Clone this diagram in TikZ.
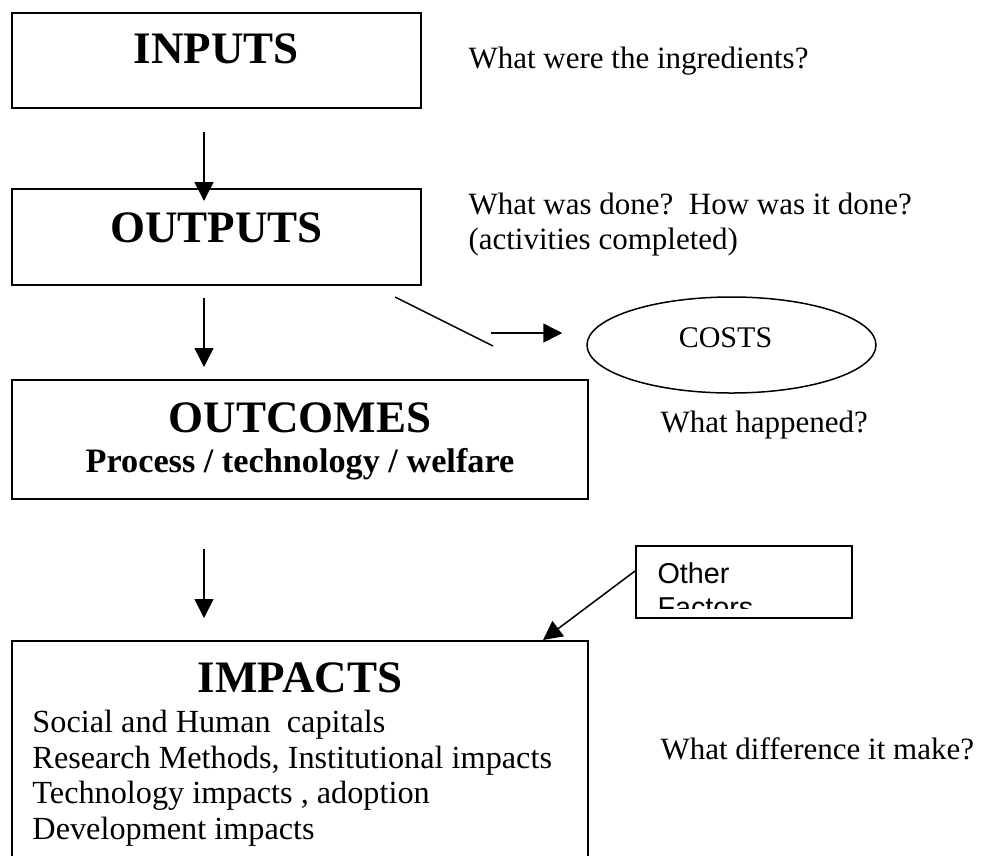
\documentclass[tikz,border=0pt]{standalone}
\usepackage{fontspec}
\setmainfont{Liberation Serif}
\setsansfont{Liberation Sans}
\usetikzlibrary{arrows.meta,positioning,shapes.geometric}

\tikzset{
  box/.style={draw,line width=0.8pt,inner sep=0pt},
  flow/.style={-{Triangle[length=7.6pt,width=7.6pt]},line width=0.6pt},
  head/.style={font=\fontsize{18}{22}\selectfont\bfseries,anchor=base,inner sep=0pt},
  subhead/.style={font=\fontsize{13.7}{16}\selectfont\bfseries,anchor=base,inner sep=0pt},
  note/.style={font=\fontsize{12.4}{14.2}\selectfont,anchor=base west,inner sep=0pt},
}

\begin{document}
\begin{tikzpicture}[x=0.4pt,y=-0.4pt]
    \useasboundingbox (0,0) rectangle (987,855);

    % the chain of boxes
    \node[box,minimum width=163.6pt,minimum height=38pt] (inputs) at (216.5,60.5) {};
    \node[box,minimum width=163.6pt,minimum height=38.4pt] (outputs) at (216.5,237) {};
    \node[box,minimum width=230.4pt,minimum height=47.6pt] (outcomes) at (300,439.5) {};
    \node[box,minimum width=230.4pt,minimum height=95.6pt] (impacts) at (300,760.5) {};

    \node[head] (inputsttl) at (216.5,63) {INPUTS};
    \node[head] (outputsttl) at (216.5,242) {OUTPUTS};
    \node[head] (outcomesttl) at (300,432) {OUTCOMES};
    \node[subhead] (outcomessub) at (300,472) {Process / technology / welfare};
    \node[head] (impactsttl) at (300,692) {IMPACTS};
    \node[note,anchor=north west,align=left,font=\fontsize{12.9}{14.2}\selectfont] (impactslist) at (32,710)
        {Social and Human\ \ capitals\\
         Research Methods, Institutional impacts\\
         Technology impacts , adoption\\
         Development impacts};

    % questions on the right
    \node[note] (q1) at (468,68) {What were the ingredients?};
    \node[note,anchor=north west,align=left] (q2) at (468,192)
        {What was done?\ \ How was it done?\\(activities completed)};
    \node[note] (q3) at (660,432) {What happened?};
    \node[note] (q4) at (660,759) {What difference it make?};

    % costs
    \node[draw,ellipse,line width=0.6pt,minimum width=115.6pt,minimum height=38.4pt] (costs) at (731.5,345) {};
    \node[note,anchor=base,font=\fontsize{12}{14}\selectfont] (costslbl) at (725.5,347) {COSTS};

    % other factors
    \node[box,minimum width=86.4pt,minimum height=28.8pt] (other) at (744,582) {};
    \begin{scope}
      \clip (other.north west) rectangle ([yshift=4.4pt]other.south east);
      \node[anchor=north west,align=left,inner sep=0pt,
            font=\fontsize{11.5}{13.6}\selectfont\sffamily] (otherlbl) at (657,562) {Other\\Factors};
    \end{scope}

    % arrows
    \coordinate (stem) at (204,0);
    \draw[flow,shorten <=9.2pt,shorten >=-5.2pt] (inputs.south -| stem) -- (outputs.north -| stem);
    \draw[flow,shorten <=4.8pt,shorten >=4.8pt] (outputs.south -| stem) -- (outcomes.north -| stem);
    \draw[flow,shorten <=19.6pt,shorten >=8.8pt] (outcomes.south -| stem) -- (impacts.north -| stem);

    \coordinate (tail) at (395,297);
    \coordinate (kink) at (493,346);
    \coordinate (cue) at (491,333);
    \draw[line width=0.6pt] (tail) -- (kink);
    \draw[flow,shorten >=9.6pt] (cue) -- (cue -| costs.west);

    \draw[flow] ([yshift=4.4pt]other.west) -- ([xshift=-18.4pt]impacts.north east);
\end{tikzpicture}
\end{document}
